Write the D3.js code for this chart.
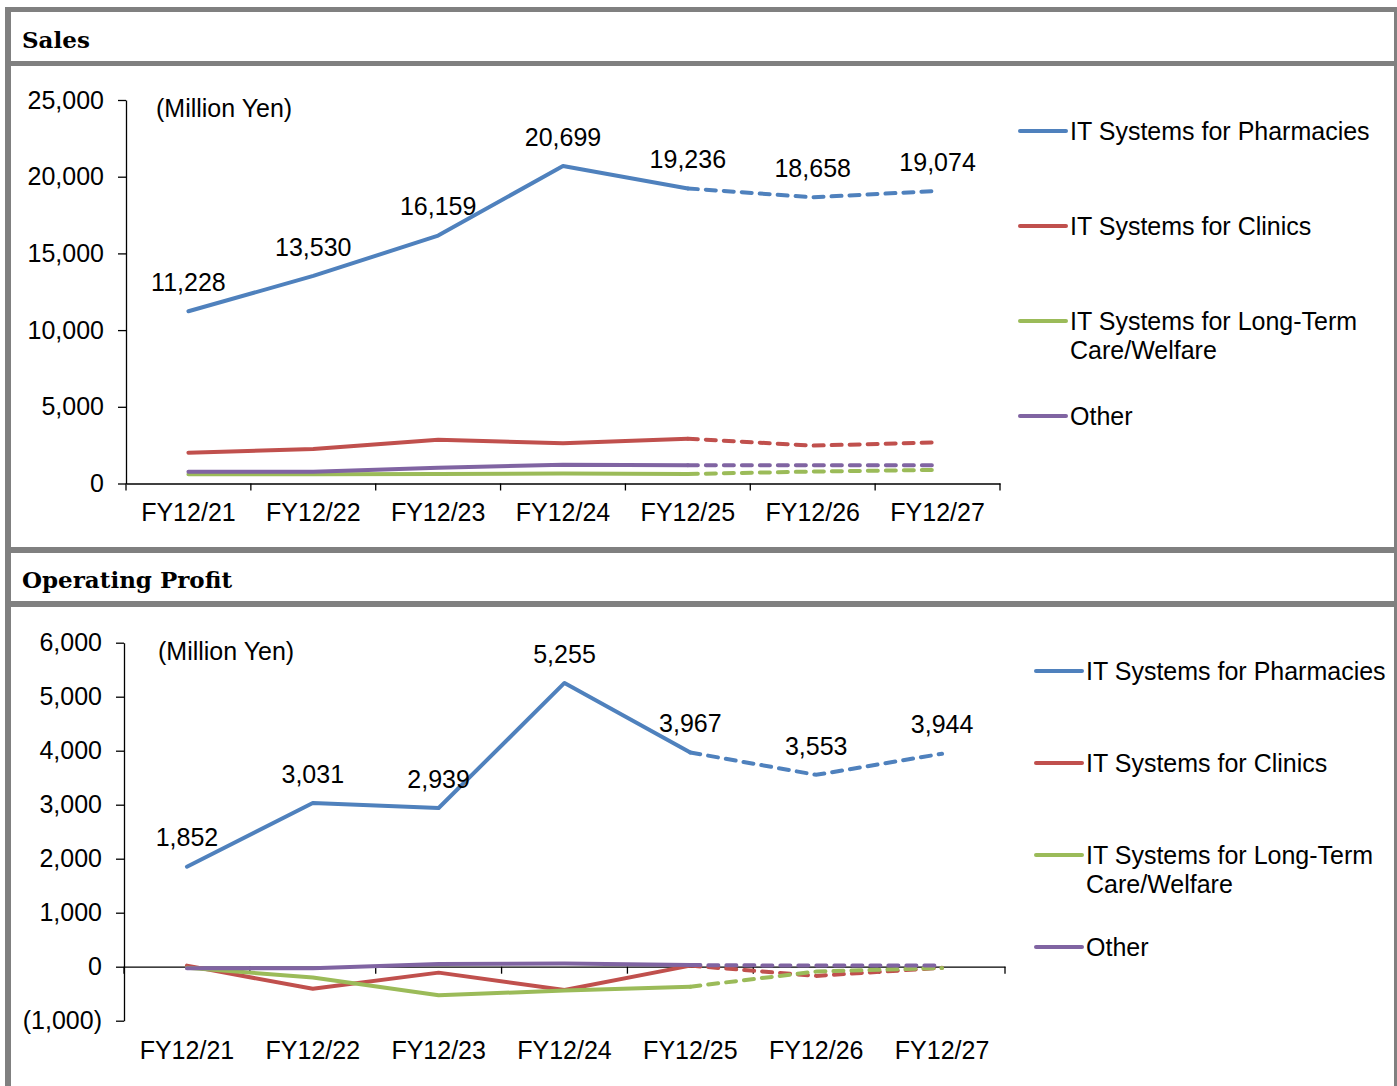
<!DOCTYPE html>
<html><head><meta charset="utf-8">
<script src="https://cdn.jsdelivr.net/npm/d3@7"></script>
<style>
body{margin:0;background:#fff}
svg{display:block}
text{font-family:"Liberation Sans",Arial,sans-serif;fill:#000}
</style>
</head><body>
<svg id="c" width="1397" height="1086"></svg>
<script>
const categories = ["FY12/21","FY12/22","FY12/23","FY12/24","FY12/25","FY12/26","FY12/27"];
const seriesNames = ["IT Systems for Pharmacies","IT Systems for Clinics","IT Systems for Long-Term\nCare/Welfare","Other"];
const seriesColors = ["#4f81bd","#c0504d","#9bbb59","#8064a2"];
const lastActualIndex = 4;

const salesPharmacies = [11228,13530,16159,20699,19236,18658,19074];
const salesClinics    = [2010,2250,2850,2620,2920,2470,2680];
const salesLongTerm   = [600,600,620,650,620,780,890];
const salesOther      = [760,760,1020,1230,1190,1190,1190];
const salesTicks = [0,5000,10000,15000,20000,25000];

const opPharmacies = [1852,3031,2939,5255,3967,3553,3944];
const opClinics    = [20,-410,-110,-430,20,-170,-20];
const opLongTerm   = [-20,-200,-530,-440,-370,-90,-25];
const opOther      = [-30,-30,50,60,30,20,20];
const opTicks = [-1000,0,1000,2000,3000,4000,5000,6000];

const svg = d3.select("#c");
const gray = "#808080";
const FS = 25;

// frame
[[5,7,1392,5],[5,7,6,1079],[1394,7,3,1079],[5,61,1392,5],[5,547,1392,6],[5,601,1392,6]]
  .forEach(r=>svg.append("rect").attr("x",r[0]).attr("y",r[1]).attr("width",r[2]).attr("height",r[3]).attr("fill",gray));

// headers
svg.append("text").attr("x",22).attr("y",48).text("Sales")
  .style("font-family","'DejaVu Serif',serif").style("font-weight","bold").style("font-size","23px");
svg.append("text").attr("x",22).attr("y",588).text("Operating Profit")
  .style("font-family","'DejaVu Serif',serif").style("font-weight","bold").style("font-size","23px");

const fmt = v => v < 0 ? "(" + d3.format(",")(-v) + ")" : d3.format(",")(v);

function panel(o){
  const x = d3.scaleBand().domain(categories).range([o.x0,o.x1]).paddingInner(0).paddingOuter(0);
  const y = d3.scaleLinear().domain(o.yDomain).range(o.yRange);
  const g = svg.append("g");
  const cx = c => x(c) + x.bandwidth()/2;
  const y0 = y(0);

  // y axis
  const ya = g.append("g").attr("transform",`translate(${o.x0},0)`)
    .call(d3.axisLeft(y).tickValues(o.ticks).tickFormat(fmt).tickSize(8).tickSizeOuter(0).tickPadding(14));
  ya.selectAll("text").style("font-size",FS+"px").attr("font-family",null);
  ya.selectAll("line,path").attr("stroke","#000").attr("stroke-width",1.3);

  // x axis line and boundary ticks
  const xa = g.append("g").attr("transform",`translate(0,${y0})`)
    .call(d3.axisBottom(x).tickFormat("").tickSize(0).tickSizeOuter(0));
  xa.selectAll("path").attr("stroke","#000").attr("stroke-width",1.3);
  const edges = categories.map(c=>x(c)).concat([o.x1]);
  g.selectAll(".edge").data(edges).enter().append("line")
    .attr("x1",d=>d).attr("x2",d=>d).attr("y1",y0).attr("y2",y0+7)
    .attr("stroke","#000").attr("stroke-width",1.3);

  // x labels
  const xl = g.append("g").attr("transform",`translate(0,${o.labelTop})`)
    .call(d3.axisBottom(x).tickSize(0).tickPadding(0));
  xl.select(".domain").remove();
  xl.selectAll("text").style("font-size",FS+"px").attr("font-family",null);

  // unit
  g.append("text").attr("x",o.unitX).attr("y",o.unitY).attr("dy","0.35em").style("font-size",FS+"px").text("(Million Yen)");

  const line = d3.line().x(d=>cx(categories[d.i])).y(d=>y(d.v));
  const order = [1,2,3,0];
  order.forEach(si=>{
    const vals = o.series[si].map((v,i)=>({v,i}));
    const solid = vals.slice(0,lastActualIndex+1);
    const dashed = vals.slice(lastActualIndex);
    g.append("path").attr("d",line(solid)).attr("fill","none").attr("stroke",seriesColors[si])
      .attr("stroke-width",4).attr("stroke-linejoin","round").attr("stroke-linecap","round");
    g.append("path").attr("d",line(dashed)).attr("fill","none").attr("stroke",seriesColors[si])
      .attr("stroke-width",4).attr("stroke-dasharray","10,8").attr("stroke-linecap","round");
  });

  // data labels for pharmacies
  g.selectAll(".dl").data(o.series[0]).enter().append("text")
    .attr("x",(d,i)=>cx(categories[i])).attr("y",d=>y(d)-29).attr("dy","0.35em")
    .attr("text-anchor","middle").style("font-size",FS+"px").text(d=>d3.format(",")(d));

  // legend
  seriesNames.forEach((n,i)=>{
    const ly = o.legY[i];
    g.append("line").attr("x1",o.legX).attr("x2",o.legX+46).attr("y1",ly).attr("y2",ly)
      .attr("stroke",seriesColors[i]).attr("stroke-width",4).attr("stroke-linecap","round");
    const t = g.append("text").attr("x",o.legX+50).attr("y",ly).style("font-size",FS+"px");
    n.split("\n").forEach((s,k)=>t.append("tspan").attr("x",o.legX+50).attr("dy",k===0?"0.35em":"1.15em").text(s));
  });
}

panel({x0:126,x1:1000,yDomain:[0,25000],yRange:[483.5,100],ticks:salesTicks,labelTop:503,
  unitX:156,unitY:108,
  series:[salesPharmacies,salesClinics,salesLongTerm,salesOther],
  legX:1020,legY:[131,226,321,416]});

panel({x0:124,x1:1005,yDomain:[-1000,6000],yRange:[1020.7,642.7],ticks:opTicks,labelTop:1041,
  unitX:158,unitY:651,
  series:[opPharmacies,opClinics,opLongTerm,opOther],
  legX:1036,legY:[671,763,855,947]});
</script>
</body></html>
